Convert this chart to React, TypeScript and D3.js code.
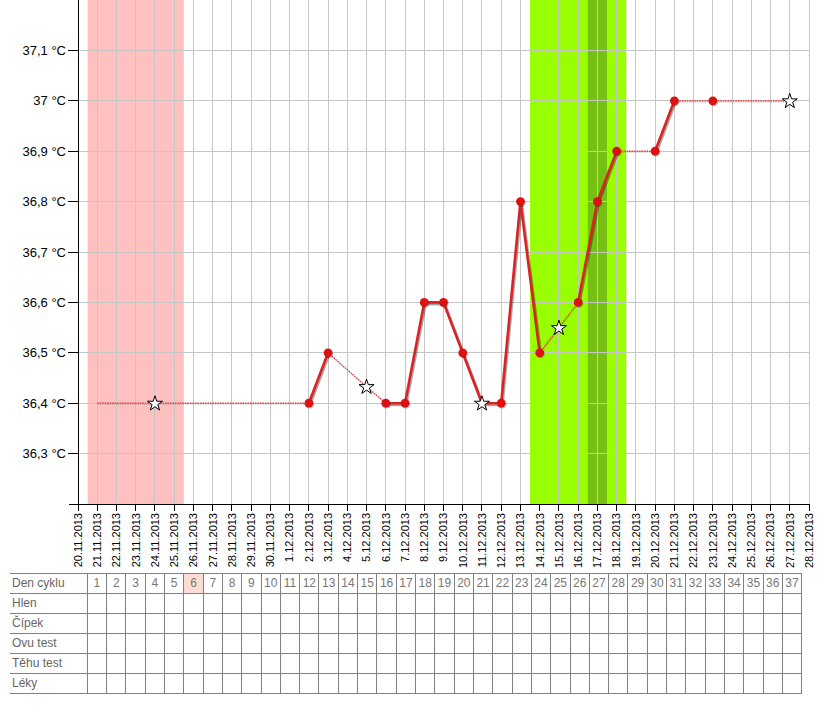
import React from "react";
import * as d3 from "d3";

// ---- data ----
const axisStart = "2013-11-20";
const axisEnd = "2013-12-28";
const yTickValues = [36.3, 36.4, 36.5, 36.6, 36.7, 36.8, 36.9, 37.0, 37.1];

const tempDates = [
  "2013-11-21", "2013-11-24", "2013-12-02", "2013-12-03", "2013-12-05", "2013-12-06",
  "2013-12-07", "2013-12-08", "2013-12-09", "2013-12-10", "2013-12-11", "2013-12-12",
  "2013-12-13", "2013-12-14", "2013-12-15", "2013-12-16", "2013-12-17", "2013-12-18",
  "2013-12-20", "2013-12-21", "2013-12-23", "2013-12-27",
];
const tempValues = [
  36.4, 36.4, 36.4, 36.5, 36.433, 36.4,
  36.4, 36.6, 36.6, 36.5, 36.4, 36.4,
  36.8, 36.5, 36.55, 36.6, 36.8, 36.9,
  36.9, 37.0, 37.0, 37.0,
];
const tempMarkers = [
  "none", "star", "dot", "dot", "star", "dot",
  "dot", "dot", "dot", "dot", "star", "dot",
  "dot", "dot", "star", "dot", "dot", "dot",
  "dot", "dot", "dot", "star",
];
// style of the segment from point i to point i+1
const segmentStyles = [
  "dotted", "dotted", "solid", "dotted", "dotted", "solid",
  "solid", "solid", "solid", "solid", "solid", "solid",
  "solid", "dotted", "dotted", "solid", "solid", "dotted",
  "solid", "dotted", "dotted",
];

const mensesDays = ["2013-11-21", "2013-11-25"];
const fertileDays = ["2013-12-14", "2013-12-18"];
const ovulationDay = "2013-12-17";

const tableRows = ["Den cyklu", "Hlen", "Čípek", "Ovu test", "Těhu test", "Léky"];
const cycleDays = d3.range(1, 38);
const highlightedCycleDay = 6;

// ---- layout ----
const W = 820, H = 720;
const plotLeft = 78, plotRight = 809, plotTop = 0, plotBottom = 504;
const tableLeft = 10, tableTop = 573, rowH = 20;
const tableCellsLeft = 87.3, tableCellsRight = 801.7;

const parse = (s: string) => new Date(s + "T00:00:00Z");
const DAY = 86400000;

export default function App() {
  const x = d3.scaleUtc().domain([parse(axisStart), parse(axisEnd)]).range([plotLeft, plotRight]);
  const y = d3.scaleLinear().domain([36.2, 37.2]).range([plotBottom, plotTop]);
  const xTicks = d3.utcDay.range(parse(axisStart), new Date(parse(axisEnd).getTime() + 1));
  const fmtDate = d3.utcFormat("%-d.%m.%Y");
  const fmtTemp = (v: number) => {
    const s = (Math.round(v * 10) / 10).toString().replace(".", ",");
    return s + " °C";
  };
  const half = (s: string, sign: number) => x(new Date(parse(s).getTime() + sign * DAY / 2));

  const tx = d3.scaleBand<number>().domain(cycleDays).range([tableCellsLeft, tableCellsRight]);

  const pts = tempDates.map((d, i) => ({ x: x(parse(d)), y: y(tempValues[i]), m: tempMarkers[i] }));
  const star = d3.symbol().type(d3.symbolStar).size(70)();
  const lineGen = d3.line<{ x: number; y: number }>().x((d) => d.x).y((d) => d.y);

  return (
    <svg width={W} height={H} style={{ position: "absolute", left: 0, top: 0, background: "#fff" }}
      fontFamily="'Liberation Sans', Arial, sans-serif">
      {/* bands */}
      <rect x={half(mensesDays[0], -1)} y={plotTop} width={half(mensesDays[1], 1) - half(mensesDays[0], -1)}
        height={plotBottom - plotTop} fill="#ffc0c0" />
      <rect x={half(fertileDays[0], -1)} y={plotTop} width={half(fertileDays[1], 1) - half(fertileDays[0], -1)}
        height={plotBottom - plotTop} fill="#99ff00" />
      <rect x={half(ovulationDay, -1)} y={plotTop} width={half(ovulationDay, 1) - half(ovulationDay, -1)}
        height={plotBottom - plotTop} fill="#76c014" />
      {/* grid */}
      <g stroke="#c6c6c6" strokeWidth={1} shapeRendering="crispEdges">
        {xTicks.slice(1).map((d, i) => (
          <line key={"v" + i} x1={x(d)} x2={x(d)} y1={plotTop} y2={plotBottom} />
        ))}
        {yTickValues.map((v, i) => (
          <line key={"h" + i} x1={plotLeft} x2={plotRight} y1={y(v)} y2={y(v)} />
        ))}
      </g>
      {/* axes */}
      <g stroke="#000" strokeWidth={1} shapeRendering="crispEdges">
        <line x1={plotLeft} x2={plotLeft} y1={plotTop} y2={plotBottom} />
        <line x1={plotLeft - 9} x2={plotRight} y1={plotBottom} y2={plotBottom} />
        {yTickValues.map((v, i) => (
          <line key={"yt" + i} x1={plotLeft - 10} x2={plotLeft} y1={y(v)} y2={y(v)} />
        ))}
        {xTicks.map((d, i) => (
          <line key={"xt" + i} x1={x(d)} x2={x(d)} y1={plotBottom} y2={plotBottom + 7} />
        ))}
      </g>
      <g fontSize={13} fill="#000" textAnchor="end">
        {yTickValues.map((v, i) => (
          <text key={"yl" + i} x={plotLeft - 12} y={y(v)} dy="0.35em">{fmtTemp(v)}</text>
        ))}
      </g>
      <g fontSize={11} fill="#000" textAnchor="end">
        {xTicks.map((d, i) => (
          <text key={"xl" + i} transform={`translate(${x(d)},${plotBottom + 9}) rotate(-90)`} dy="0.35em">
            {fmtDate(d)}
          </text>
        ))}
      </g>
      {/* temperature line */}
      <g fill="none" strokeLinecap="round" strokeLinejoin="round">
        {segmentStyles.map((s, i) => {
          const seg = [pts[i], pts[i + 1]];
          return s === "solid" ? (
            <g key={"s" + i}>
              <path d={lineGen(seg) || ""} stroke="rgba(0,0,0,0.35)" strokeWidth={3} transform="translate(1,1.5)" />
              <path d={lineGen(seg) || ""} stroke="#dd2222" strokeWidth={2.6} />
            </g>
          ) : (
            <g key={"s" + i}>
              <path d={lineGen(seg) || ""} stroke="rgba(0,0,0,0.25)" strokeWidth={1.2} strokeDasharray="1,1" transform="translate(0.5,1)" strokeLinecap="butt" />
              <path d={lineGen(seg) || ""} stroke="#e03030" strokeWidth={1.2} strokeDasharray="1.5,1" strokeLinecap="butt" />
            </g>
          );
        })}
      </g>
      <g>
        {pts.map((p, i) =>
          p.m === "dot" ? (
            <g key={"m" + i}>
              <circle cx={p.x + 0.8} cy={p.y + 1} r={4.4} fill="rgba(0,0,0,0.25)" />
              <circle cx={p.x} cy={p.y} r={4.4} fill="#dd1111" />
            </g>
          ) : p.m === "star" ? (
            <path key={"m" + i} d={star || ""} transform={`translate(${p.x},${p.y + 0.5})`} fill="#fff" stroke="#000" strokeWidth={1} />
          ) : null
        )}
      </g>
      {/* table */}
      <g fontSize={12}>
        {cycleDays.map((c) =>
          c === highlightedCycleDay ? (
            <rect key={"hl" + c} x={tx(c)} y={tableTop} width={tx.bandwidth()} height={rowH} fill="#fcdcd4" />
          ) : null
        )}
        <g stroke="#808080" strokeWidth={1} shapeRendering="crispEdges">
          {d3.range(tableRows.length + 1).map((r) => (
            <line key={"tr" + r} x1={tableLeft} x2={tableCellsRight} y1={tableTop + r * rowH} y2={tableTop + r * rowH} />
          ))}
          {cycleDays.map((c) => (
            <line key={"tc" + c} x1={tx(c)} x2={tx(c)} y1={tableTop} y2={tableTop + tableRows.length * rowH} />
          ))}
          <line x1={tableCellsRight} x2={tableCellsRight} y1={tableTop} y2={tableTop + tableRows.length * rowH} />
        </g>
        {tableRows.map((r, i) => (
          <text key={"rl" + i} x={tableLeft + 2} y={tableTop + i * rowH + rowH / 2} dy="0.35em" fill="#666">{r}</text>
        ))}
        {cycleDays.map((c) => (
          <text key={"cd" + c} x={(tx(c) || 0) + tx.bandwidth() / 2} y={tableTop + rowH / 2} dy="0.35em"
            textAnchor="middle" fill="#777">{c}</text>
        ))}
      </g>
    </svg>
  );
}
